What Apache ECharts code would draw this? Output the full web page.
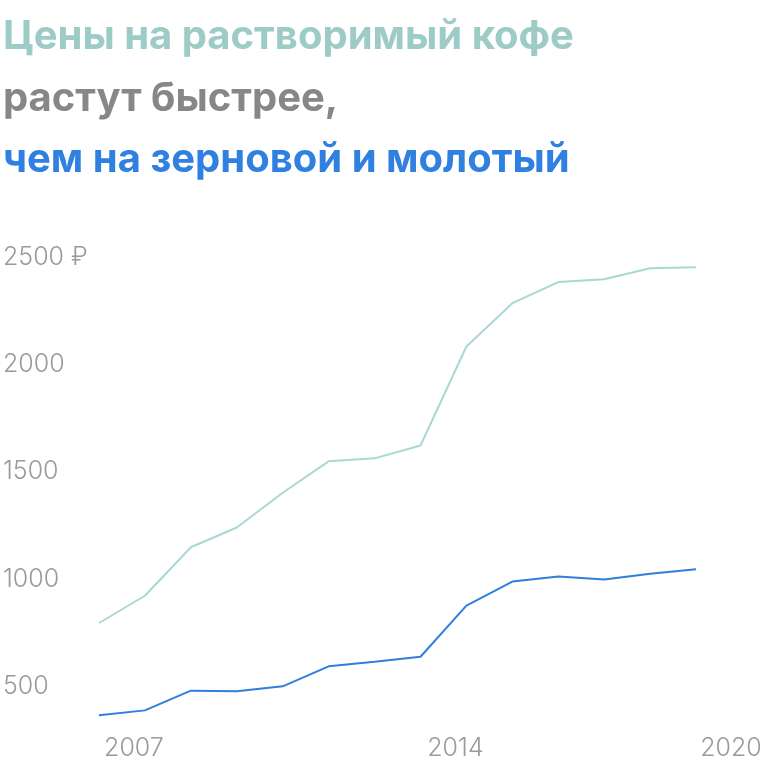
<!DOCTYPE html>
<html lang="ru">
<head>
    <meta charset="UTF-8">
    <title>Цены на кофе</title>
    <script src="https://cdn.jsdelivr.net/npm/echarts@6/dist/echarts.min.js"></script>
    <style>
        html, body { margin: 0; padding: 0; background: #fff; }
        #main { width: 768px; height: 768px; }
    </style>
</head>
<body>
<div id="main"></div>
<script>
    var years = ['2006', '2007', '2008', '2009', '2010', '2011', '2012', '2013', '2014', '2015', '2016', '2017', '2018', '2019', '2020'];
    var shownYears = ['2007', '2014', '2020'];
    // растворимый
    var instant = [795, 922, 1148, 1240, 1402, 1548, 1562, 1622, 2083, 2285, 2383, 2396, 2448, 2452];
    // зерновой и молотый
    var beans = [365, 388, 480, 477, 500, 593, 615, 638, 876, 988, 1012, 998, 1025, 1045];

    var chart = echarts.init(document.getElementById('main'));
    var titleFont = { fontFamily: 'Inter', fontWeight: 'bold', fontSize: 40 };
    var labelFont = { color: '#9a9a9a', fontFamily: 'Inter', fontWeight: 300, fontSize: 25 };

    chart.setOption({
        title: [
            { text: 'Цены на растворимый кофе', left: -2, top: 12, textStyle: Object.assign({ color: '#9dcbc6' }, titleFont) },
            { text: 'растут быстрее,', left: -2, top: 74, textStyle: Object.assign({ color: '#878787' }, titleFont) },
            { text: 'чем на зерновой и молотый', left: -2, top: 135, textStyle: Object.assign({ color: '#2f80e0' }, titleFont) }
        ],
        grid: { left: 96, right: 26, top: 257, bottom: 28 },
        xAxis: {
            type: 'category',
            data: years,
            boundaryGap: false,
            axisLine: { show: false },
            axisTick: { show: false },
            axisLabel: Object.assign({
                interval: 0,
                margin: -4,
                padding: [0, 22, 0, 0],
                formatter: function (v) { return shownYears.indexOf(v) >= 0 ? v : ''; }
            }, labelFont)
        },
        yAxis: {
            type: 'value',
            min: 250,
            max: 2500,
            interval: 250,
            splitLine: { show: false },
            axisLine: { show: false },
            axisTick: { show: false },
            axisLabel: Object.assign({
                align: 'left',
                margin: 96,
                formatter: function (v) {
                    if (v % 500 !== 0) return '';
                    return v === 2500 ? '2500 ₽' : String(v);
                }
            }, labelFont)
        },
        series: [
            { name: 'растворимый', type: 'line', data: instant, showSymbol: false, lineStyle: { color: '#a9d8d4', width: 2 } },
            { name: 'зерновой и молотый', type: 'line', data: beans, showSymbol: false, lineStyle: { color: '#2f7fdf', width: 2 } }
        ]
    });
</script>
</body>
</html>
